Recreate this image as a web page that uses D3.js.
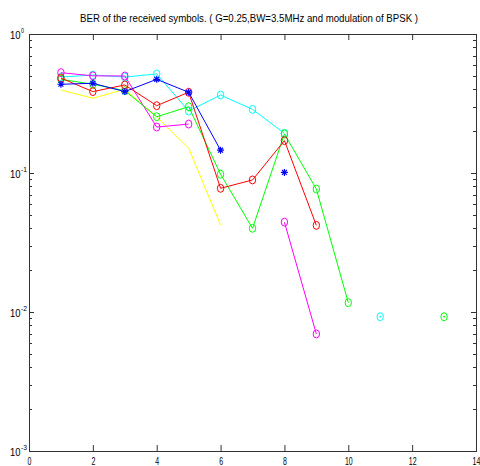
<!DOCTYPE html>
<html>
<head>
<meta charset="utf-8">
<script src="https://cdn.jsdelivr.net/npm/d3@7"></script>
<style>
  html, body { margin: 0; padding: 0; background: #fff; }
  svg text { font-family: "Liberation Sans Narrow", "Arial Narrow", "Liberation Sans", sans-serif; fill: #000; }
</style>
</head>
<body>
<svg id="chart" width="480" height="466"></svg>
<script>
// ---- data ----
const xValues = [1, 2, 3, 4, 5, 6, 7, 8, 9, 10, 11, 12, 13];
const yellowSeries  = [0.396, 0.345, 0.400, 0.253, 0.151, 0.0423, null, null, null, null, null, null, null];
const cyanSeries    = [0.490, 0.507, 0.490, 0.516, 0.279, 0.364, 0.287, 0.193, null, null, 0.00925, null, null];
const magentaSeries = [0.527, 0.500, 0.499, 0.214, 0.225, null, null, 0.0443, 0.00695, null, null, null, null];
const greenSeries   = [0.472, 0.435, 0.391, 0.254, 0.300, 0.098, 0.040, 0.191, 0.0767, 0.01167, null, null, 0.00925];
const redSeries     = [0.482, 0.385, 0.430, 0.305, 0.381, 0.0776, 0.0891, 0.171, 0.042, null, null, null, null];
const blueSeries    = [0.435, 0.442, 0.385, 0.472, 0.381, 0.146, null, 0.101, null, null, null, null, null];
const xTickValues = [0, 2, 4, 6, 8, 10, 12, 14];
const yTickExponents = [0, -1, -2, -3];
const titleText = "BER of the received symbols. ( G=0.25,BW=3.5MHz and modulation of BPSK )";

const seriesList = [
  { values: yellowSeries,  color: "#ffff00", marker: "none" },
  { values: cyanSeries,    color: "#00ffff", marker: "circle" },
  { values: magentaSeries, color: "#ff00ff", marker: "circle" },
  { values: greenSeries,   color: "#00ff00", marker: "circle" },
  { values: redSeries,     color: "#ff0000", marker: "circle" },
  { values: blueSeries,    color: "#0000ff", marker: "star" }
];

// ---- layout ----
const svg = d3.select("#chart");
const pLeft = 29, pRight = 476, pTop = 34, pBottom = 451;
const x = d3.scaleLinear().domain([0, 14]).range([pLeft, pRight]);
const y = d3.scaleLog().domain([1e-3, 1]).range([pBottom, pTop]);

svg.append("rect").attr("width", 480).attr("height", 466).attr("fill", "#fff");

// title
svg.append("text").attr("x", 249).attr("y", 22).attr("text-anchor", "middle")
  .attr("font-size", 11.5).attr("textLength", 338).attr("lengthAdjust", "spacingAndGlyphs")
  .text(titleText);

// box
svg.append("rect").attr("x", pLeft + 0.5).attr("y", pTop + 0.5).attr("width", pRight - pLeft).attr("height", pBottom - pTop)
  .attr("fill", "none").attr("stroke", "#333").attr("stroke-width", 1);

const axisColor = "#333";
// x ticks (bottom, inward) and top
const xAxisBottom = d3.axisBottom(x).tickValues(xTickValues).tickSize(-6).tickFormat(d3.format("d"));
const gxb = svg.append("g").attr("transform", `translate(0,${pBottom})`).call(xAxisBottom);
gxb.select(".domain").remove();
gxb.selectAll("line").attr("stroke", axisColor);
gxb.selectAll("text")
  .attr("y", 14).attr("dy", 0).attr("font-size", 10.5)
  .attr("textLength", d => String(d).length * 3.9).attr("lengthAdjust", "spacingAndGlyphs")
  .style("font-family", "Liberation Sans Narrow, Arial Narrow, Liberation Sans, sans-serif");

const xAxisTop = d3.axisTop(x).tickValues(xTickValues).tickSize(-6).tickFormat("");
const gxt = svg.append("g").attr("transform", `translate(0,${pTop})`).call(xAxisTop);
gxt.select(".domain").remove();
gxt.selectAll("line").attr("stroke", axisColor);

// y ticks: major and minor
const majorY = yTickExponents.map(e => Math.pow(10, e));
const minorY = [];
[-3, -2, -1].forEach(e => { for (let m = 2; m <= 9; m++) minorY.push(m * Math.pow(10, e)); });

function yTicks(g, vals, len, side) {
  const sgn = side === "left" ? 1 : -1;
  const x0 = side === "left" ? pLeft : pRight;
  g.selectAll(null).data(vals).enter().append("line")
    .attr("x1", x0).attr("x2", x0 + sgn * len)
    .attr("y1", d => Math.round(y(d)) + 0.5).attr("y2", d => Math.round(y(d)) + 0.5)
    .attr("stroke", axisColor);
}
const gy = svg.append("g");
yTicks(gy, majorY, 5, "left");
yTicks(gy, minorY, 3, "left");
yTicks(gy, majorY, 5, "right");
yTicks(gy, minorY, 3, "right");

// y labels 10^e
const yl = svg.append("g");
yTickExponents.forEach(e => {
  const yy = y(Math.pow(10, e));
  yl.append("text").attr("x", 10).attr("y", yy + 4.5).attr("font-size", 11)
    .attr("textLength", 10.5).attr("lengthAdjust", "spacingAndGlyphs").text("10");
  const sup = String(e);
  yl.append("text").attr("x", 21).attr("y", yy - 1).attr("font-size", 8)
    .attr("textLength", sup.length * 3).attr("lengthAdjust", "spacingAndGlyphs").text(sup);
});

// ---- series ----
const plot = svg.append("g");
const line = d3.line().defined(d => d.v != null).x(d => x(d.x)).y(d => y(d.v));

seriesList.forEach(s => {
  const pts = xValues.map((xv, i) => ({ x: xv, v: s.values[i], i }));
  plot.append("path").datum(pts).attr("d", line)
    .attr("fill", "none").attr("stroke", s.color).attr("stroke-width", 1);
  const valid = pts.filter(p => p.v != null);
  const isolated = p => (s.values[p.i - 1] == null) && (s.values[p.i + 1] == null);
  if (s.marker === "circle") {
    plot.selectAll(null).data(valid).enter().append("ellipse")
      .attr("cx", d => x(d.x)).attr("cy", d => y(d.v)).attr("rx", 3.2).attr("ry", 4)
      .attr("fill", "none").attr("stroke", s.color).attr("stroke-width", 1);
    plot.selectAll(null).data(valid.filter(isolated)).enter().append("circle")
      .attr("cx", d => x(d.x)).attr("cy", d => y(d.v)).attr("r", 0.9).attr("fill", s.color);
  } else if (s.marker === "star") {
    const g = plot.selectAll(null).data(valid).enter().append("g")
      .attr("transform", d => `translate(${x(d.x)},${y(d.v)})`);
    const r = 3.5;
    g.append("path")
      .attr("d", `M${-r},0H${r}M0,${-r}V${r}M${-r*0.7},${-r*0.7}L${r*0.7},${r*0.7}M${-r*0.7},${r*0.7}L${r*0.7},${-r*0.7}`)
      .attr("stroke", s.color).attr("stroke-width", 1.2).attr("fill", "none");
  }
});
</script>
</body>
</html>
